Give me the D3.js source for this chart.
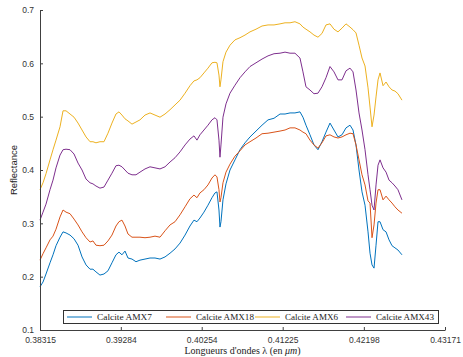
<!DOCTYPE html>
<html>
<head>
<meta charset="utf-8">
<script src="https://cdn.jsdelivr.net/npm/d3@7"></script>
<style>
  html, body { margin: 0; padding: 0; background: #fff; }
  svg { display: block; }
</style>
</head>
<body>
<svg id="chart" width="463" height="357"></svg>
<script>
// Wavelength samples (µm)
const wavelengths = [
  0.38315, 0.38351, 0.38387, 0.38435, 0.38471, 0.38507, 0.38555, 0.38591, 0.38627, 0.38675,
  0.38723, 0.38771, 0.38819, 0.38867, 0.38915, 0.38950, 0.38986, 0.39034, 0.39082, 0.39130,
  0.39178, 0.39226, 0.39262, 0.39298, 0.39334, 0.39370, 0.39418, 0.39466, 0.39514, 0.39574,
  0.39634, 0.39694, 0.39754, 0.39814, 0.39874, 0.39934, 0.39994, 0.40054, 0.40113, 0.40161,
  0.40197, 0.40233, 0.40281, 0.40329, 0.40377, 0.40413, 0.40437, 0.40461, 0.40473, 0.40485,
  0.40509, 0.40545, 0.40593, 0.40653, 0.40713, 0.40773, 0.40833, 0.40905, 0.40977, 0.41049,
  0.41121, 0.41193, 0.41253, 0.41313, 0.41372, 0.41432, 0.41468, 0.41504, 0.41552, 0.41600,
  0.41648, 0.41696, 0.41744, 0.41792, 0.41840, 0.41888, 0.41936, 0.41984, 0.42032, 0.42068,
  0.42104, 0.42140, 0.42176, 0.42212, 0.42248, 0.42272, 0.42296, 0.42320, 0.42344, 0.42368,
  0.42392, 0.42428, 0.42464, 0.42500, 0.42536, 0.42571, 0.42607, 0.42655
];

// Reflectance spectra
const amx7 = [
  0.181, 0.190, 0.205, 0.226, 0.241, 0.258, 0.274, 0.284, 0.282, 0.278,
  0.271, 0.259, 0.237, 0.222, 0.214, 0.214, 0.209, 0.203, 0.205, 0.211,
  0.226, 0.241, 0.246, 0.241, 0.248, 0.235, 0.233, 0.228, 0.231, 0.233,
  0.235, 0.235, 0.233, 0.237, 0.244, 0.252, 0.263, 0.278, 0.295, 0.306,
  0.303, 0.310, 0.321, 0.334, 0.348, 0.357, 0.359, 0.325, 0.293, 0.303,
  0.344, 0.374, 0.400, 0.419, 0.438, 0.451, 0.462, 0.473, 0.484, 0.494,
  0.497, 0.505, 0.505, 0.507, 0.507, 0.509, 0.499, 0.484, 0.466, 0.447,
  0.438, 0.453, 0.471, 0.488, 0.475, 0.462, 0.466, 0.479, 0.484, 0.475,
  0.447, 0.400, 0.359, 0.334, 0.284, 0.244, 0.222, 0.216, 0.259, 0.303,
  0.303, 0.288, 0.284, 0.269, 0.258, 0.254, 0.250, 0.241
];
const amx18 = [
  0.231, 0.243, 0.254, 0.269, 0.276, 0.289, 0.312, 0.325, 0.321, 0.318,
  0.308, 0.297, 0.284, 0.273, 0.265, 0.267, 0.259, 0.258, 0.259, 0.267,
  0.278, 0.295, 0.303, 0.306, 0.295, 0.280, 0.274, 0.274, 0.274, 0.273,
  0.274, 0.276, 0.274, 0.286, 0.297, 0.303, 0.316, 0.331, 0.346, 0.353,
  0.348, 0.357, 0.363, 0.372, 0.385, 0.391, 0.387, 0.363, 0.340, 0.348,
  0.376, 0.396, 0.411, 0.426, 0.436, 0.447, 0.453, 0.460, 0.468, 0.469,
  0.471, 0.473, 0.475, 0.479, 0.479, 0.475, 0.471, 0.468, 0.456, 0.447,
  0.441, 0.451, 0.464, 0.466, 0.462, 0.460, 0.462, 0.466, 0.469, 0.468,
  0.447, 0.419, 0.391, 0.372, 0.342, 0.338, 0.273, 0.297, 0.338, 0.363,
  0.363, 0.344, 0.351, 0.344, 0.338, 0.331, 0.325, 0.319
];
const amx6 = [
  0.363, 0.376, 0.393, 0.419, 0.438, 0.456, 0.481, 0.511, 0.511, 0.505,
  0.499, 0.488, 0.475, 0.462, 0.453, 0.453, 0.451, 0.453, 0.453, 0.469,
  0.488, 0.505, 0.509, 0.503, 0.496, 0.492, 0.486, 0.490, 0.494, 0.503,
  0.507, 0.503, 0.499, 0.505, 0.513, 0.522, 0.531, 0.544, 0.558, 0.567,
  0.569, 0.573, 0.582, 0.591, 0.601, 0.602, 0.601, 0.578, 0.556, 0.569,
  0.603, 0.621, 0.634, 0.644, 0.648, 0.653, 0.659, 0.664, 0.670, 0.672,
  0.672, 0.674, 0.676, 0.676, 0.678, 0.674, 0.668, 0.664, 0.659, 0.653,
  0.649, 0.656, 0.672, 0.674, 0.664, 0.659, 0.666, 0.674, 0.668, 0.663,
  0.657, 0.634, 0.610, 0.595, 0.554, 0.518, 0.481, 0.503, 0.537, 0.569,
  0.582, 0.558, 0.565, 0.556, 0.550, 0.548, 0.543, 0.531
];
const amx43 = [
  0.306, 0.321, 0.336, 0.363, 0.381, 0.404, 0.428, 0.438, 0.439, 0.438,
  0.430, 0.413, 0.400, 0.383, 0.376, 0.374, 0.370, 0.366, 0.368, 0.381,
  0.394, 0.408, 0.409, 0.406, 0.400, 0.394, 0.391, 0.391, 0.396, 0.402,
  0.406, 0.404, 0.402, 0.406, 0.415, 0.423, 0.434, 0.447, 0.458, 0.464,
  0.456, 0.466, 0.475, 0.484, 0.494, 0.498, 0.494, 0.456, 0.424, 0.447,
  0.499, 0.524, 0.544, 0.559, 0.573, 0.584, 0.594, 0.601, 0.608, 0.614,
  0.618, 0.619, 0.621, 0.619, 0.619, 0.610, 0.584, 0.556, 0.550, 0.543,
  0.544, 0.556, 0.573, 0.594, 0.584, 0.569, 0.569, 0.586, 0.591, 0.584,
  0.550, 0.507, 0.475, 0.438, 0.391, 0.363, 0.334, 0.325, 0.372, 0.409,
  0.419, 0.404, 0.396, 0.381, 0.376, 0.370, 0.363, 0.344
];

const seriesNames = ["Calcite AMX7", "Calcite AMX18", "Calcite AMX6", "Calcite AMX43"];
const seriesValues = [amx7, amx18, amx6, amx43];
const seriesColors = ["#0072BD", "#D95319", "#EDB120", "#7E2F8E"];

const xTicks = [0.38315, 0.39284, 0.40254, 0.41225, 0.42198, 0.43171];
const xTickLabels = ["0.38315", "0.39284", "0.40254", "0.41225", "0.42198", "0.43171"];
const yTicks = [0.1, 0.2, 0.3, 0.4, 0.5, 0.6, 0.7];

const svg = d3.select("#chart");
const plotLeft = 40, plotRight = 445, plotTop = 10, plotBottom = 330;
const axisColor = "#404040";

const x = d3.scaleLinear().domain([0.38315, 0.43171]).range([plotLeft, plotRight]);
const y = d3.scaleLinear().domain([0.1, 0.7]).range([plotBottom, plotTop]);

// Spectra
const line = d3.line().x((d, i) => x(wavelengths[i])).y(d => y(d));
svg.append("g").selectAll("path")
  .data(seriesValues)
  .join("path")
  .attr("d", d => line(d))
  .attr("fill", "none")
  .attr("stroke", (d, i) => seriesColors[i])
  .attr("stroke-width", 1)
  .attr("stroke-linejoin", "round");

// Axes: ticks point inward
const xAxis = d3.axisBottom(x).tickValues(xTicks)
  .tickFormat((d, i) => xTickLabels[i]).tickSizeInner(-3).tickSizeOuter(0).tickPadding(7);
const gx = svg.append("g").attr("transform", `translate(0,${plotBottom})`).call(xAxis);

const yAxis = d3.axisLeft(y).tickValues(yTicks)
  .tickFormat(d3.format(".1f")).tickSizeInner(-3).tickSizeOuter(0).tickPadding(6);
const gy = svg.append("g").attr("transform", `translate(${plotLeft},0)`).call(yAxis);

[gx, gy].forEach(g => {
  g.select(".domain").attr("stroke", axisColor).attr("stroke-width", 1);
  g.selectAll(".tick line").attr("stroke", axisColor);
  g.selectAll(".tick text")
    .attr("fill", "#333")
    .style("font-family", "'Liberation Sans', Arial, sans-serif")
    .style("font-size", "8.5px");
});

// Axis titles
svg.append("text")
  .attr("transform", `translate(17,${(plotTop + plotBottom) / 2}) rotate(-90)`)
  .attr("text-anchor", "middle")
  .attr("fill", "#222")
  .style("font-family", "'Liberation Sans', Arial, sans-serif")
  .style("font-size", "9.5px")
  .text("Reflectance");

const xt = svg.append("text")
  .attr("x", (plotLeft + plotRight) / 2)
  .attr("y", 354)
  .attr("text-anchor", "middle")
  .attr("fill", "#222")
  .style("font-family", "'Liberation Serif', 'DejaVu Serif', serif")
  .style("font-size", "10px");
xt.append("tspan").text("Longueurs d'ondes λ (en ");
xt.append("tspan").style("font-style", "italic").text("μm");
xt.append("tspan").text(")");

// Legend
const legend = svg.append("g");
legend.append("rect")
  .attr("x", 63.5).attr("y", 310.5)
  .attr("width", 375).attr("height", 13)
  .attr("fill", "#fff").attr("stroke", "#333").attr("stroke-width", 1);
const legendLineX = [67, 166, 255, 346];
const legendTextW = [55, 58, 53, 58];
seriesNames.forEach((name, i) => {
  legend.append("line")
    .attr("x1", legendLineX[i]).attr("x2", legendLineX[i] + 25)
    .attr("y1", 317).attr("y2", 317)
    .attr("stroke", seriesColors[i]).attr("stroke-width", 1);
  legend.append("text")
    .attr("x", legendLineX[i] + 30).attr("y", 320)
    .attr("fill", "#222")
    .attr("textLength", legendTextW[i]).attr("lengthAdjust", "spacingAndGlyphs")
    .style("font-family", "'Liberation Serif', 'DejaVu Serif', serif")
    .style("font-size", "8.5px")
    .text(name);
});
</script>
</body>
</html>
